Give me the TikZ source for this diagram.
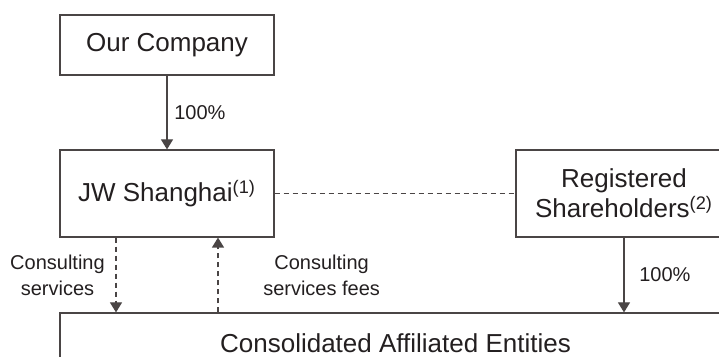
\documentclass[tikz,border=0pt]{standalone}
\usepackage{fontspec}
\setmainfont{Liberation Sans}
\usetikzlibrary{arrows.meta}

\definecolor{linegray}{HTML}{4A4545}
\definecolor{inkblack}{HTML}{231F20}

\begin{document}
\begin{tikzpicture}[
    x = 0.5pt, y = -0.5pt, % one unit = one pixel of the layout
    > = {Triangle[width=6pt,length=5pt]}, % arrow head style
    every node/.style={text=inkblack},
    entity/.style={rectangle,draw=linegray,line width=0.6pt,inner sep=0pt,
      align=center,font=\fontsize{13}{15}\selectfont},
    link/.style={draw=linegray,line width=0.6pt},
    service link/.style={link,dash pattern=on 2.5pt off 2pt},
    flow label/.style={font=\fontsize{10}{13}\selectfont,align=center}
  ]
  \clip (0,0) rectangle (719,357);

  % Nodes
  \node[entity,minimum width=107pt,minimum height=30pt] (comp) at (167,45) {Our Company};
  \node[entity,minimum width=107pt,minimum height=43.5pt] (jw) at (167,193.5)
    {JW Shanghai\textsuperscript{(1)}};
  \node[entity,minimum width=108pt,minimum height=43.5pt] (reg) at (624,193.5)
    {Registered\\Shareholders\textsuperscript{(2)}};
  \node[entity,minimum width=335.5pt,minimum height=30pt] (cae) at (395.5,343)
    {Consolidated Affiliated Entities};

  % Edges
  \path (comp) edge[link,->] node[flow label,right] {100\%} (jw);
  \path (jw) edge[service link] (reg);
  \draw[link,->] (reg.south) -- (reg.south |- cae.north)
    node[midway,flow label,right=4pt] {100\%};
  \draw[service link,->] ([xshift=-25.5pt]jw.south) -- ([xshift=-25.5pt]jw.south |- cae.north)
    node[midway,flow label,left=2pt] {Consulting\\services};
  \draw[service link,->] ([xshift=25.5pt]jw.south |- cae.north) -- ([xshift=25.5pt]jw.south)
    node[midway,flow label,right=19pt] {Consulting\\services fees};
\end{tikzpicture}
\end{document}
